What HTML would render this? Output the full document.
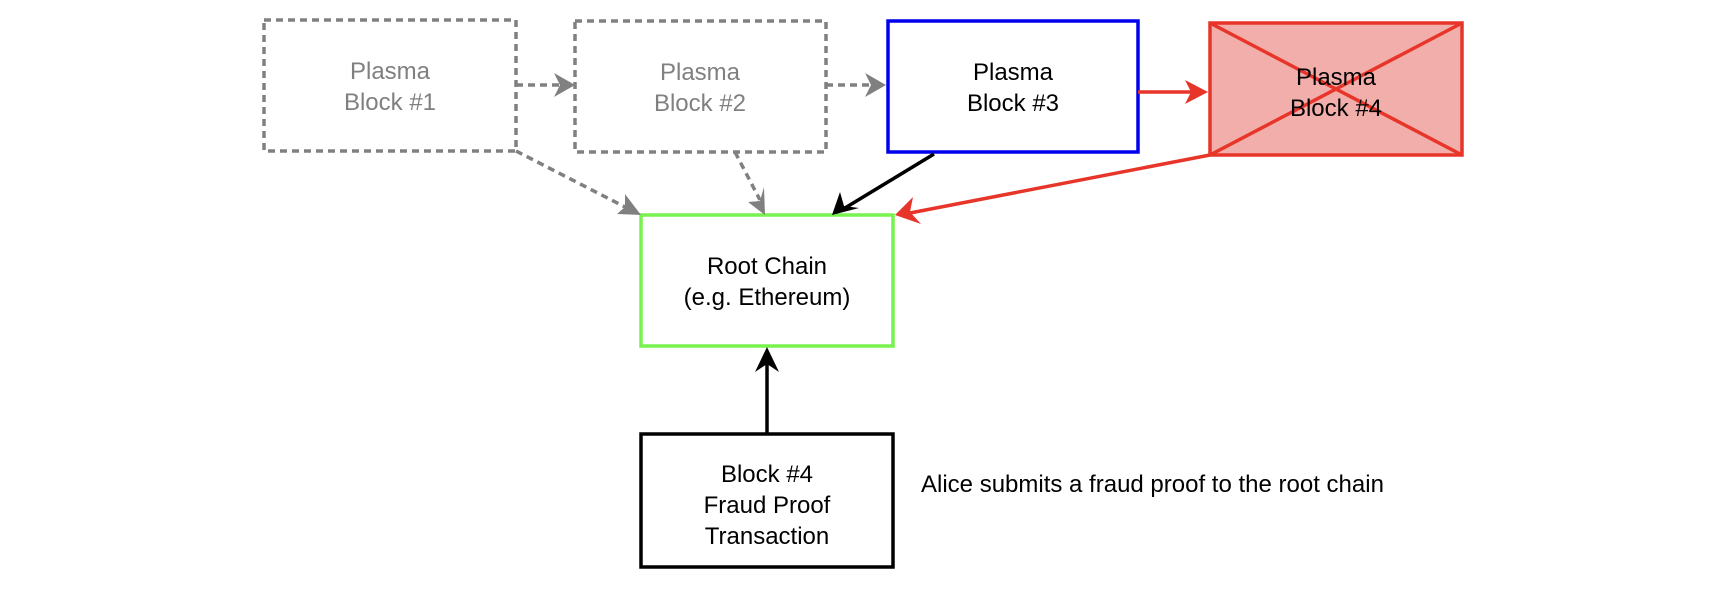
<!DOCTYPE html>
<html><head><meta charset="utf-8"><style>
html,body{margin:0;padding:0;background:#fff;width:1728px;height:592px;overflow:hidden}
svg text{font-family:"Liberation Sans",sans-serif;font-size:24px;text-anchor:middle}
</style></head><body>
<svg width="1728" height="592" viewBox="0 0 1728 592" xmlns="http://www.w3.org/2000/svg">
<g fill="none" stroke-width="3.5">
<rect x="264" y="20" width="252" height="131" stroke="#808080" stroke-dasharray="7 5"/>
<rect x="575" y="21" width="251" height="131" stroke="#808080" stroke-dasharray="7 5"/>
<rect x="888" y="21" width="250" height="131" stroke="#0000ee"/>
<rect x="1210" y="23" width="252" height="132" stroke="#e8352a" fill="#f2aeaa"/>
<line x1="1210" y1="23" x2="1462" y2="155" stroke="#e8352a"/>
<line x1="1462" y1="23" x2="1210" y2="155" stroke="#e8352a"/>
<rect x="641" y="215" width="252" height="131" stroke="#77f24f"/>
<rect x="641" y="434" width="252" height="133" stroke="#000"/>
<line x1="516" y1="85" x2="560" y2="85" stroke="#808080" stroke-dasharray="7 5"/>
<line x1="826" y1="85" x2="872" y2="85" stroke="#808080" stroke-dasharray="7 5"/>
<line x1="516" y1="151" x2="625" y2="207" stroke="#808080" stroke-dasharray="7 5"/>
<line x1="735" y1="152" x2="760" y2="200" stroke="#808080" stroke-dasharray="7 5"/>
<line x1="1138" y1="92" x2="1195" y2="92" stroke="#e8352a"/>
<line x1="934" y1="154" x2="845" y2="208" stroke="#000"/>
<line x1="1210" y1="155" x2="910" y2="213" stroke="#e8352a"/>
<line x1="767" y1="434" x2="767" y2="360" stroke="#000"/>
</g>
<g>
<path d="M575,85 L554,73 L560,85 L554,97 Z" fill="#808080"/>
<path d="M886,85 L865,73 L871,85 L865,97 Z" fill="#808080"/>
<path d="M1208,92 L1185,80 L1191,92 L1185,104 Z" fill="#e8352a"/>
<path d="M641,215 L617,214 L625,207 L625,194 Z" fill="#808080"/>
<path d="M765,215 L748,202 L760,201 L764,187 Z" fill="#808080"/>
<path d="M832,215 L840,192 L844,206 L859,208 Z" fill="#000"/>
<path d="M895,215 L913,197 L910,212 L921,224 Z" fill="#e8352a"/>
<path d="M767,347 L755,372 L767,364 L779,372 Z" fill="#000"/>
</g>
<text x="390" y="79" fill="#808080">Plasma</text>
<text x="390" y="110" fill="#808080">Block #1</text>
<text x="700" y="80" fill="#808080">Plasma</text>
<text x="700" y="111" fill="#808080">Block #2</text>
<text x="1013" y="80" fill="#000">Plasma</text>
<text x="1013" y="111" fill="#000">Block #3</text>
<text x="1336" y="85" fill="#000">Plasma</text>
<text x="1336" y="116" fill="#000">Block #4</text>
<text x="767" y="274" fill="#000">Root Chain</text>
<text x="767" y="305" fill="#000">(e.g. Ethereum)</text>
<text x="767" y="482" fill="#000">Block #4</text>
<text x="767" y="513" fill="#000">Fraud Proof</text>
<text x="767" y="544" fill="#000">Transaction</text>
<text x="921" y="492" fill="#000" style="text-anchor:start">Alice submits a fraud proof to the root chain</text>
</svg>
</body></html>
